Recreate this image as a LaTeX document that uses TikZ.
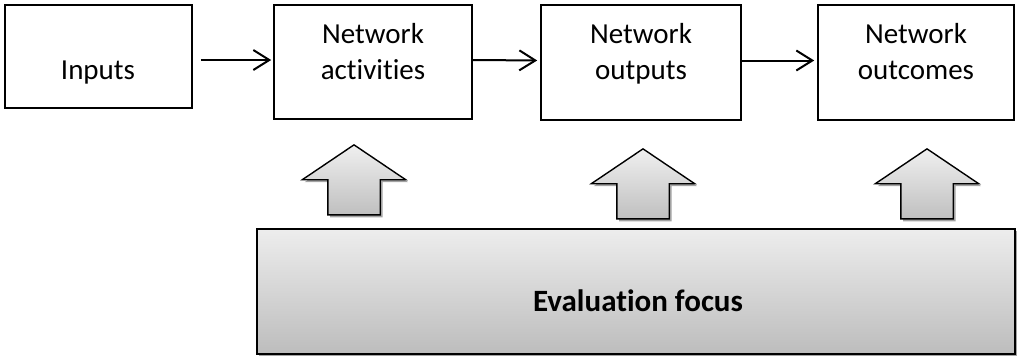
\documentclass[tikz,border=0pt]{standalone}
\usepackage{fontspec}
\setmainfont{Carlito}[Ligatures=NoCommon]
\usetikzlibrary{shapes.arrows,shadows,arrows.meta}

\begin{document}
\begin{tikzpicture}[
  x=0.5pt, y=-0.5pt,
  box/.style={rectangle, draw, line width=0.8pt, inner sep=0pt},
  lbl/.style={align=center, font=\fontsize{14.5}{18}\selectfont, inner sep=0pt},
  arrow/.style={-{Straight Barb[length=8pt,width=10pt]}, line width=1pt},
  softshadow/.style={drop shadow={shadow xshift=1.2pt, shadow yshift=-1.2pt, fill=black!60, opacity=0.6}},
  upblock/.style={single arrow, draw, line width=0.7pt, inner xsep=12.75pt, inner ysep=0pt,
    minimum height=35pt, single arrow head extend=12.75pt,
    single arrow tip angle=112, shape border rotate=90,
    top color=black!6, bottom color=black!25, softshadow},
  focus/.style={rectangle, draw, line width=0.7pt, inner sep=0pt,
    top color=black!7, bottom color=black!26, softshadow}
]
\useasboundingbox (0,0) rectangle (1017,360);

% chain of boxes
\node[box, minimum width=93.5pt, minimum height=51.5pt] (inp) at (98.5,56.5) {};
\node[box, minimum width=99pt, minimum height=57pt] (act) at (373,62) {};
\node[box, minimum width=100pt, minimum height=57.5pt] (out) at (641,62.5) {};
\node[box, minimum width=98pt, minimum height=57.5pt] (res) at (916,62.5) {};

\node[lbl, anchor=base] (inp-t) at (98,79) {Inputs};
\node[lbl, anchor=north] (act-t) at (373,23) {Network\\activities};
\node[lbl, anchor=north] (out-t) at (641,23) {Network\\outputs};
\node[lbl, anchor=north] (res-t) at (916,23) {Network\\outcomes};

\draw[arrow, shorten <=4pt, shorten >=1pt] ([yshift=1pt]inp.east |- act.west) -- ([yshift=1pt]act.west);
\draw[arrow, shorten >=1.5pt] ([yshift=1pt]act.east) -- ([yshift=1pt]out.west);
\draw[arrow, shorten >=1.5pt] ([yshift=1pt]out.east) -- ([yshift=1pt]res.west);

% evaluation focus
\node[upblock, anchor=tip] (up1) at (354,144) {};
\node[upblock, anchor=tip] (up2) at (643,148) {};
\node[upblock, anchor=tip] (up3) at (927,148) {};

\node[focus, minimum width=379pt, minimum height=62.5pt] (evl) at (636,291.5) {};
\node[lbl, anchor=base, font=\fontsize{15.5}{18}\selectfont\bfseries] (evl-t) at (638,311) {Evaluation focus};

\end{tikzpicture}
\end{document}
